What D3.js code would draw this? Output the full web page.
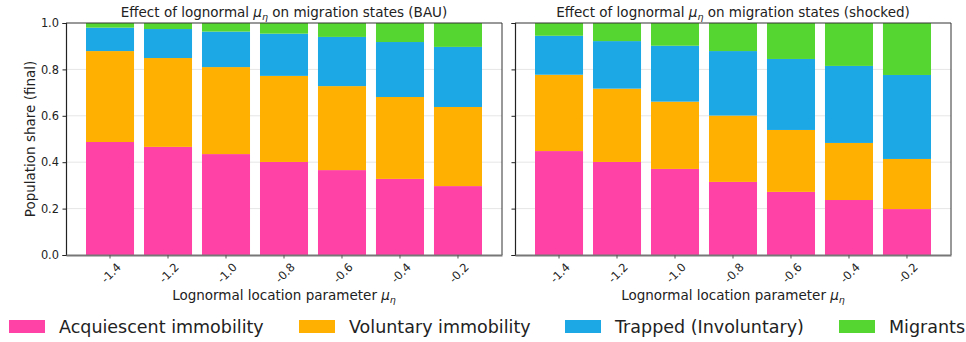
<!DOCTYPE html>
<html>
<head>
<meta charset="utf-8">
<script src="https://cdn.jsdelivr.net/npm/d3@7"></script>
<style>
  body { margin: 0; background: #fff; }
  svg { display: block; font-family: "DejaVu Sans", sans-serif; }
</style>
</head>
<body>
<svg id="chart" width="966" height="342"></svg>
<script>
// Lognormal location parameter values (x categories)
const categories = ["-1.4", "-1.2", "-1.0", "-0.8", "-0.6", "-0.4", "-0.2"];
const seriesNames = ["Acquiescent immobility", "Voluntary immobility", "Trapped (Involuntary)", "Migrants"];
const seriesColors = ["#FF42A5", "#FFB000", "#1CA7E5", "#56D630"];

// Final population shares, business-as-usual scenario
const bauAcquiescent = [0.487, 0.466, 0.435, 0.401, 0.366, 0.328, 0.297];
const bauVoluntary   = [0.392, 0.383, 0.375, 0.371, 0.362, 0.353, 0.341];
const bauTrapped     = [0.101, 0.125, 0.153, 0.182, 0.212, 0.237, 0.259];
const bauMigrants    = [0.020, 0.026, 0.037, 0.046, 0.060, 0.082, 0.103];

// Final population shares, shocked scenario
const shkAcquiescent = [0.448, 0.401, 0.371, 0.315, 0.272, 0.237, 0.198];
const shkVoluntary   = [0.329, 0.316, 0.290, 0.286, 0.267, 0.246, 0.216];
const shkTrapped     = [0.168, 0.205, 0.241, 0.278, 0.306, 0.332, 0.362];
const shkMigrants    = [0.055, 0.078, 0.098, 0.121, 0.155, 0.185, 0.224];

const yTicks = [0.0, 0.2, 0.4, 0.6, 0.8, 1.0];

const panels = [
  { title: "Effect of lognormal ", titleTail: " on migration states (BAU)", left: 66, right: 502,
    series: [bauAcquiescent, bauVoluntary, bauTrapped, bauMigrants], yLabels: true },
  { title: "Effect of lognormal ", titleTail: " on migration states (shocked)", left: 515, right: 951,
    series: [shkAcquiescent, shkVoluntary, shkTrapped, shkMigrants], yLabels: false }
];

const svg = d3.select("#chart");
const plotTop = 23, plotBottom = 255;
const y = d3.scaleLinear().domain([0, 1]).range([plotBottom, plotTop]);

panels.forEach(p => {
  const g = svg.append("g");
  const x = d3.scaleBand().domain(categories).range([p.left, p.right])
    .paddingInner(0.172).paddingOuter(0.345);

  // horizontal grid
  g.selectAll("line.grid").data(yTicks.slice(1, -1)).join("line")
    .attr("x1", p.left).attr("x2", p.right)
    .attr("y1", d => y(d)).attr("y2", d => y(d))
    .attr("stroke", "#e6e6e6").attr("stroke-width", 1);

  // stacked bars
  const rows = categories.map((c, i) => {
    const r = { cat: c };
    seriesNames.forEach((s, k) => r[s] = p.series[k][i]);
    return r;
  });
  const stacked = d3.stack().keys(seriesNames)(rows);
  stacked.forEach((layer, k) => {
    g.selectAll(null).data(layer).join("rect")
      .attr("x", d => x(d.data.cat))
      .attr("width", x.bandwidth())
      .attr("y", d => y(Math.min(d[1], 1)))
      .attr("height", d => y(d[0]) - y(Math.min(d[1], 1)))
      .attr("fill", seriesColors[k]);
  });

  // frame
  g.append("line").attr("x1", p.left).attr("x2", p.right).attr("y1", plotTop).attr("y2", plotTop)
    .attr("stroke", "#333").attr("stroke-width", 1);
  g.append("line").attr("x1", p.right).attr("x2", p.right).attr("y1", plotTop).attr("y2", plotBottom)
    .attr("stroke", "#333").attr("stroke-width", 1);

  // y axis
  const yAxis = d3.axisLeft(y).tickValues(yTicks).tickSize(3.5).tickPadding(3.5)
    .tickFormat(p.yLabels ? d3.format(".1f") : () => "");
  const ya = g.append("g").attr("transform", `translate(${p.left},0)`).call(yAxis);
  ya.select(".domain").attr("stroke", "#222").attr("stroke-width", 1.2);
  ya.selectAll(".tick line").attr("stroke", "#222");
  ya.selectAll(".tick text").attr("font-size", 11.4).attr("fill", "#222")
    .attr("font-family", "DejaVu Sans");

  // x axis
  const xAxis = d3.axisBottom(x).tickSize(3.5).tickSizeOuter(0).tickFormat(d => d);
  const xa = g.append("g").attr("transform", `translate(0,${plotBottom})`).call(xAxis);
  xa.select(".domain").attr("stroke", "#777").attr("stroke-width", 2);
  xa.selectAll(".tick line").attr("stroke", "#555");
  xa.selectAll(".tick text")
    .attr("font-size", 11.4).attr("fill", "#222").attr("font-family", "DejaVu Sans")
    .attr("text-anchor", "middle").attr("dy", null).attr("y", null)
    .attr("transform", "translate(1,18) rotate(-45)")
    .attr("dominant-baseline", "central");

  // x axis label
  const cx = (p.left + p.right) / 2;
  const xl = g.append("text").attr("x", cx).attr("y", 300).attr("text-anchor", "middle")
    .attr("font-size", 13.5).attr("fill", "#222");
  xl.append("tspan").text("Lognormal location parameter ");
  xl.append("tspan").attr("font-style", "italic").text("μ");
  xl.append("tspan").attr("font-style", "italic").attr("font-size", 9.5).attr("dy", 3).text("η");

  // title
  const t = g.append("text").attr("x", cx).attr("y", 17).attr("text-anchor", "middle")
    .attr("font-size", 13.5).attr("fill", "#222");
  t.append("tspan").text(p.title);
  t.append("tspan").attr("font-style", "italic").text("μ");
  t.append("tspan").attr("font-style", "italic").attr("font-size", 9.5).attr("dy", 3).text("η");
  t.append("tspan").attr("dy", -3).text(p.titleTail);
});

// y axis title
svg.append("text").attr("transform", `translate(35,${(plotTop + plotBottom) / 2}) rotate(-90)`)
  .attr("text-anchor", "middle").attr("font-size", 13.5).attr("fill", "#222")
  .text("Population share (final)");

// legend
const legendX = [9, 299, 565, 839];
const lg = svg.append("g");
seriesNames.forEach((s, k) => {
  lg.append("rect").attr("x", legendX[k]).attr("y", 320).attr("width", 36).attr("height", 13)
    .attr("fill", seriesColors[k]);
  lg.append("text").attr("x", legendX[k] + 50).attr("y", 333).attr("font-size", 17.5)
    .attr("fill", "#222").text(s);
});
</script>
</body>
</html>
